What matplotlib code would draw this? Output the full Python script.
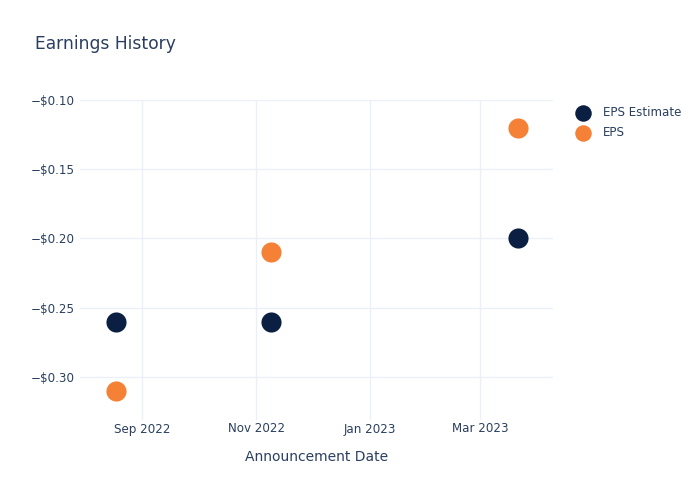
import matplotlib
matplotlib.use("Agg")
import matplotlib.pyplot as plt
import matplotlib.dates as mdates
from matplotlib.ticker import FuncFormatter, FixedLocator
import datetime as dt

dates = ["2022-08-18", "2022-11-09", "2023-03-21"]
eps_estimate = [-0.26, -0.26, -0.20]
eps_actual = [-0.31, -0.21, -0.12]
x_ticks = ["2022-09-01", "2022-11-01", "2023-01-01", "2023-03-01"]
x_tick_labels = ["Sep 2022", "Nov 2022", "Jan 2023", "Mar 2023"]
y_ticks = [-0.30, -0.25, -0.20, -0.15, -0.10]

TEXT = "#2a3f5f"
GRID = "#ebf0f8"
NAVY = "#0b1f42"
ORANGE = "#f58136"

plt.rcParams['font.family'] = ['DejaVu Sans']

fig = plt.figure(figsize=(7, 5), dpi=100)
ax = fig.add_axes([80/700, 80/500, 473/700, 320/500])

xd = [dt.datetime.strptime(d, "%Y-%m-%d") for d in dates]
ax.scatter(xd, eps_estimate, s=210, color=NAVY, label="EPS Estimate", zorder=3, linewidths=0)
ax.scatter(xd, eps_actual, s=210, color=ORANGE, label="EPS", zorder=3, linewidths=0)

ax.set_xlim(dt.datetime(2022, 7, 29, 14), dt.datetime(2023, 4, 8, 22))
ax.set_ylim(-0.3311, -0.10)

xt = [mdates.date2num(dt.datetime.strptime(d, "%Y-%m-%d")) for d in x_ticks]
ax.xaxis.set_major_locator(FixedLocator(xt))
ax.set_xticklabels(x_tick_labels)
ax.yaxis.set_major_locator(FixedLocator(y_ticks))
ax.yaxis.set_major_formatter(FuncFormatter(lambda v, p: ("\u2212" if v < 0 else "") + "${:.2f}".format(abs(v))))

ax.grid(True, color=GRID, linewidth=1, zorder=0)
for s in ax.spines.values():
    s.set_visible(False)
ax.tick_params(axis='both', length=0, labelsize=8.6, colors=TEXT)
ax.tick_params(axis='x', pad=1.8)
ax.tick_params(axis='y', pad=4)

ax.set_xlabel("Announcement Date", fontsize=10, color=TEXT, labelpad=10.5)
fig.text(35/700, 1 - 44/500, "Earnings History", fontsize=12.3, color=TEXT, va='center', ha='left')

leg = fig.legend(loc='upper left', bbox_to_anchor=(571/700, 1 - 106/500), frameon=False,
                 fontsize=8.6, labelcolor=TEXT, handletextpad=0.65, labelspacing=0.58,
                 borderaxespad=0, borderpad=0, markerscale=0.82)

fig.savefig("out.png", dpi=100)
